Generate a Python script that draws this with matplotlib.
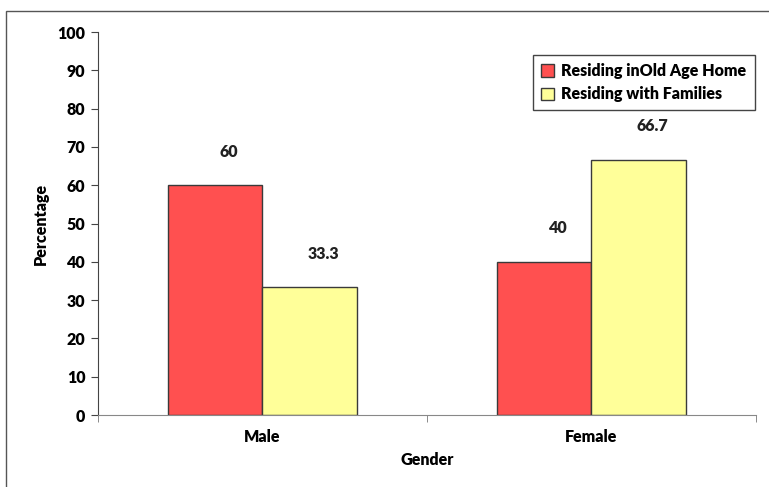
import numpy as np
import matplotlib
matplotlib.use('Agg')
import matplotlib.pyplot as plt
from matplotlib.patches import Rectangle

# data
genders = ['Male', 'Female']
old_age_home = [60, 40]
with_families = [33.3, 66.7]
series_names = ['Residing inOld Age Home', 'Residing with Families']

plt.rcParams['font.family'] = ['Lato', 'DejaVu Sans']
plt.rcParams['font.weight'] = 'heavy'

fig = plt.figure(figsize=(7.69, 4.87), dpi=100)
ax = fig.add_axes([0.1274, 0.1478, 0.8556, 0.7864])

# outer frame around the chart
fig.patches.append(Rectangle((6 / 769, -0.2), 1.2, 1.2 - 11 / 487,
                             transform=fig.transFigure, fill=False,
                             edgecolor='#555555', linewidth=1.0))

x = np.arange(len(genders))
w = 0.286
b1 = ax.bar(x - w / 2, old_age_home, w, color='#FF5050', edgecolor='#3a3a3a',
            linewidth=1.0, label=series_names[0])
b2 = ax.bar(x + w / 2, with_families, w, color='#FFFF99', edgecolor='#3a3a3a',
            linewidth=1.0, label=series_names[1])

# value labels above the bars
for bars, vals in ((b1, old_age_home), (b2, with_families)):
    for bar, v in zip(bars, vals):
        ax.annotate(f'{v:g}', (bar.get_x() + bar.get_width() / 2, v),
                    xytext=(10, 24), textcoords='offset points',
                    ha='center', va='center', fontsize=11.5, fontweight='heavy',
                    color='#222222')

ax.set_xlim(-0.5, 1.5)
ax.set_ylim(0, 100)
ax.set_yticks(range(0, 101, 10))
ax.set_xticks(x)
ax.set_xticklabels(genders)
ax.set_xticks([-0.5, 0.5, 1.5], minor=True)
ax.tick_params(axis='x', which='major', length=0, pad=10, labelsize=11.5)
ax.tick_params(axis='x', which='minor', length=5, color='#777777')
ax.tick_params(axis='y', length=5, color='#444444', labelsize=11.5, pad=4)

for s in ('top', 'right'):
    ax.spines[s].set_visible(False)
ax.spines['left'].set_color('#444444')
ax.spines['bottom'].set_color('#888888')

ax.set_ylabel('Percentage', fontsize=11.5, fontweight='heavy', labelpad=6)
ax.set_xlabel('Gender', fontsize=11.5, fontweight='heavy', labelpad=5)

leg = ax.legend(loc='upper right', bbox_to_anchor=(0.998, 0.94), fontsize=11.5,
                frameon=True, fancybox=False, framealpha=1, edgecolor='#444444',
                handlelength=0.8, handleheight=0.8, handletextpad=0.5,
                borderpad=0.5, labelspacing=0.45, borderaxespad=0)
leg.get_frame().set_linewidth(1.0)

fig.savefig('out.png', dpi=100)
